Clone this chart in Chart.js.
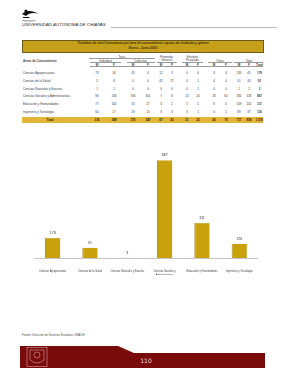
<!DOCTYPE html>
<html lang="es">
<head>
<meta charset="utf-8">
<title>Titulados de nivel licenciatura</title>
<script src="https://cdn.jsdelivr.net/npm/chart.js@4.4.0/dist/chart.umd.min.js"></script>
<style>
  html, body { margin: 0; padding: 0; background: #fff; }
  body { width: 291px; height: 380px; position: relative; overflow: hidden; font-family: "Liberation Sans", Arial, sans-serif; }
  .t { position: absolute; white-space: nowrap; font-size: 3px; color: #3a3a3a; line-height: 1; }
  .c { transform: translate(-50%, -50%); text-align: center; }
  .l { transform: translate(0, -50%); }
  .rule { position: absolute; height: 0; border-top: 0.4px solid #9a9a9a; }
  #chartBox { position: absolute; left: 33.5px; top: 150px; width: 224px; height: 125px; }
</style>
</head>
<body>

<!-- logo -->
<svg style="position:absolute;left:20px;top:8px" width="22" height="16" viewBox="0 0 22 16">
  <path d="M2 6 C6 2, 12 2, 19 6 C14 4, 9 5, 6 8 L4 7 Z" fill="#111"/>
  <circle cx="6" cy="3" r="1.6" fill="#111"/>
  <path d="M3 9 L10 9 L9 10 L3 10 Z" fill="#111"/>
  <rect x="2" y="12" width="14" height="0.6" fill="#888"/>
  <rect x="4" y="13.5" width="10" height="0.5" fill="#aaa"/>
</svg>
<div class="t l" style="left:22px;top:25px;font-size:4.4px;font-style:italic;color:#2b2b2b">UNIVERSIDAD AUTONOMA DE CHIAPAS</div>
<div style="position:absolute;left:111px;top:27px;width:166px;height:1px;background:#c9b3b6"></div>

<!-- table -->
<div style="position:absolute;left:22px;top:40px;width:242px;height:13px;background:#c7a01a;border:0.5px solid #6b5a20;box-sizing:border-box"></div>
<div class="t c" style="left:143px;top:44.3px;font-size:3.2px;font-weight:bold;color:#3b2f05">Titulados de nivel licenciatura por área de conocimiento, opción de titulación y género</div>
<div class="t c" style="left:143px;top:49px;font-size:3.2px;font-weight:bold;color:#3b2f05">Enero - Junio 2010</div>
<div id="table"></div>

<div id="chartBox"><canvas id="chart"></canvas></div>

<!-- footer -->
<div class="t l" style="left:22px;top:334.5px;font-size:2.8px;color:#444">Fuente: Dirección de Servicios Escolares, UNACH.</div>
<svg style="position:absolute;left:0;top:0" width="291" height="380">
  <polygon points="20,346 118,346 134,353 265,353 265,368 20,368" fill="#7a0b0b"/>
  <rect x="27" y="347.5" width="20" height="19" fill="none" stroke="#d9a0a0" stroke-width="0.6"/>
  <path d="M30 350 L44 350 L44 360 Q37 366 30 360 Z" fill="none" stroke="#e6bdbd" stroke-width="0.5"/>
  <circle cx="37" cy="355" r="3" fill="none" stroke="#e6bdbd" stroke-width="0.5"/>
</svg>
<div class="t c" style="left:146px;top:361px;font-size:6px;color:#f3dcdc;font-family:'DejaVu Sans'">110</div>

<script>
const areas = [
  "Ciencias Agropecuarias",
  "Ciencias de la Salud",
  "Ciencias Naturales y Exactas",
  "Ciencias Sociales y Administrativas",
  "Educación y Humanidades",
  "Ingeniería y Tecnología"
];
const indivM = [73, 5, 1, 96, 77, 64];
const indivF = [34, 8, 1, 136, 162, 17];
const colecM = [45, 0, 0, 190, 16, 19];
const colecF = [4, 0, 0, 301, 27, 15];
const promM = [12, 42, 0, 7, 3, 3];
const promF = [3, 27, 0, 8, 2, 3];
const posgM = [0, 0, 0, 13, 5, 3];
const posgF = [0, 1, 1, 24, 5, 1];
const otrosM = [3, 4, 0, 28, 8, 0];
const otrosF = [4, 4, 0, 64, 6, 1];
const totalM = [133, 51, 1, 334, 109, 89];
const totalF = [45, 40, 2, 533, 202, 37];

const chartLabels = [
  "Ciencias Agropecuarias",
  "Ciencias de la Salud",
  "Ciencias Naturales y Exactas",
  ["Ciencias Sociales y", "Administrativas"],
  "Educación y Humanidades",
  "Ingeniería y Tecnología"
];
const graduates = [178, 91, 3, 867, 311, 126];

// ---- table ----
const table = document.getElementById("table");
function put(text, x, y, cls, style) {
  const d = document.createElement("div");
  d.className = "t " + (cls || "c");
  d.textContent = text;
  d.style.left = x + "px";
  d.style.top = y + "px";
  if (style) Object.assign(d.style, style);
  table.appendChild(d);
}
function rule(x1, x2, y) {
  const d = document.createElement("div");
  d.className = "rule";
  d.style.left = x1 + "px";
  d.style.top = y + "px";
  d.style.width = (x2 - x1) + "px";
  table.appendChild(d);
}

const cols = [97, 114, 133, 148, 161, 172, 187, 198, 214, 226, 239, 249, 259.5];
const columns = [indivM, indivF, colecM, colecF, promM, promF, posgM, posgF, otrosM, otrosF, totalM, totalF];

put("Tesis", 122, 56.5);
rule(89, 155, 58.3);
put("Individual", 105.5, 60.7);
put("Colectiva", 140.5, 60.7);
put("Promedio", 166.5, 56.5);
put("General", 166.5, 60.2);
put("Estudios", 192.5, 56.5);
put("Posgrado", 192.5, 60.2);
put("Otros", 220, 60.7);
put("Total", 249, 60.7);
put("Áreas de Conocimiento", 23, 61, "l", { fontWeight: "bold" });
[[90, 121], [127, 155], [157, 177], [182, 203], [208, 232], [234, 263]].forEach(r => rule(r[0], r[1], 62.4));
for (let i = 0; i < 12; i++) put(i % 2 ? "F" : "M", cols[i], 64.6, "c", { fontWeight: "bold" });
put("Total", cols[12], 64.6, "c", { fontWeight: "bold" });
rule(90, 263, 66.2);

const rowY = [73.3, 80.9, 88.6, 96.4, 104.4, 112.2];
areas.forEach((a, r) => {
  put(a, 23, rowY[r], "l");
  columns.forEach((col, c) => put(String(col[r]), cols[c], rowY[r]));
  put(String(totalM[r] + totalF[r]), cols[12], rowY[r], "c", { fontWeight: "bold" });
});

const band = document.createElement("div");
band.style.cssText = "position:absolute;left:22px;top:117px;width:241px;height:6px;background:#e0b53a";
table.appendChild(band);
put("Total", 50, 120, "c", { fontWeight: "bold", color: "#2a2206" });
columns.forEach((col, c) => {
  put(String(col.reduce((s, v) => s + v, 0)), cols[c], 120, "c", { fontWeight: "bold", color: "#2a2206" });
});
const grand = totalM.reduce((s, v) => s + v, 0) + totalF.reduce((s, v) => s + v, 0);
put(grand.toLocaleString("en-US"), cols[12], 120, "c", { fontWeight: "bold", color: "#2a2206" });

// ---- chart ----
const valueLabels = {
  id: "valueLabels",
  afterDatasetsDraw(chart) {
    const ctx = chart.ctx;
    const meta = chart.getDatasetMeta(0);
    ctx.save();
    ctx.font = '3.6px "Liberation Sans"';
    ctx.fillStyle = "#333";
    ctx.textAlign = "center";
    ctx.textBaseline = "bottom";
    meta.data.forEach((bar, i) => {
      ctx.fillText(String(graduates[i]), bar.x, bar.y - 3);
    });
    ctx.restore();
  }
};

new Chart(document.getElementById("chart"), {
  type: "bar",
  data: {
    labels: chartLabels,
    datasets: [{
      data: graduates,
      backgroundColor: "#c9a10c",
      borderColor: "#94760a",
      borderWidth: { left: 0.8, right: 0.3, top: 0.3, bottom: 0 },
      barPercentage: 0.41,
      categoryPercentage: 1
    }]
  },
  options: {
    responsive: true,
    maintainAspectRatio: false,
    animation: false,
    devicePixelRatio: 1,
    layout: { padding: 0 },
    plugins: { legend: { display: false }, tooltip: { enabled: false } },
    scales: {
      x: {
        grid: { display: false },
        border: { display: true, color: "#c4c4c4", width: 1 },
        ticks: {
          font: { size: 2.6, family: "Liberation Sans", lineHeight: 1.5 },
          color: "#444",
          maxRotation: 0,
          autoSkip: false,
          padding: 3
        },
        afterFit: (scale) => { scale.height = 17; }
      },
      y: { display: false, min: 0, max: 958 }
    }
  },
  plugins: [valueLabels]
});
</script>
</body>
</html>
